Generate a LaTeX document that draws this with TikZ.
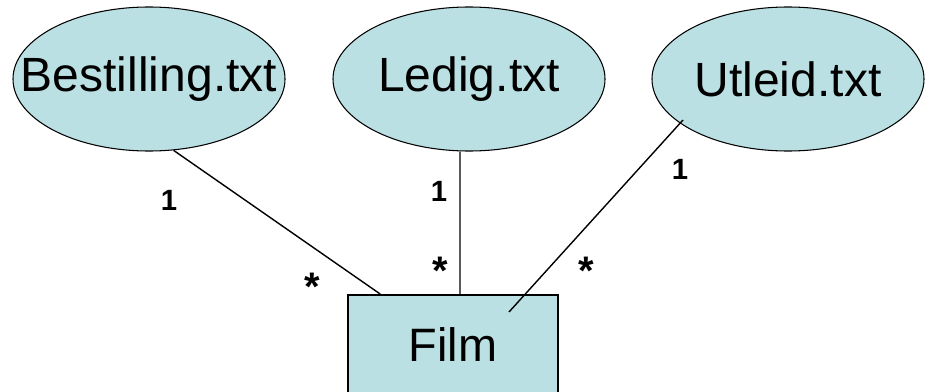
\documentclass[tikz,border=0pt]{standalone}
\usepackage{fontspec}
\setmainfont{Liberation Sans}
\usetikzlibrary{shapes.geometric}
\definecolor{boxfill}{HTML}{BBE0E3}
\begin{document}
\begin{tikzpicture}[x=0.03cm,y=-0.03cm]

\useasboundingbox (0,0) rectangle (928,391);

\tikzstyle{every node}=[inner sep=0pt];
\tikzstyle{file}=[draw,line width=0.9pt,fill=boxfill,shape=ellipse,inner sep=-1.2cm,minimum width=8.16cm,minimum height=4.32cm,font=\fontsize{41}{46}\selectfont];
\tikzstyle{class}=[draw,line width=1.7pt,fill=boxfill,shape=rectangle,minimum width=6.3cm,minimum height=3cm,font=\fontsize{40}{46}\selectfont];
\tikzstyle{mult}=[anchor=base,font=\bfseries\fontsize{25}{30}\selectfont];
\tikzstyle{many}=[anchor=base,font=\bfseries\fontsize{34}{40}\selectfont];

% Draw the files and the class
\node[file] (best) at (149,79) {Bestilling.txt};
\node[file] (ledig) at (469,79) {Ledig.txt};
\node[file] (utl) at (788,79) {Utleid.txt};
\node[class] (film) at (453,345) {Film};

% Links between the files and the class
\coordinate (utop) at (683,120);
\coordinate (ubot) at (509,312);
\draw[line width=1.2pt] (best.-71.6) -- (film.145.6)
([xshift=-0.27cm]ledig.south) -- ([xshift=0.21cm]film.north)
(utop) -- (ubot);

% Multiplicities
\node[mult] (m1) at (169,210) {1};
\node[many] (m2) at (312,300) {*};
\node[mult] (m3) at (439,201) {1};
\node[many] (m4) at (440,284) {*};
\node[mult] (m5) at (680,179) {1};
\node[many] (m6) at (586,284) {*};

\end{tikzpicture}
\end{document}
